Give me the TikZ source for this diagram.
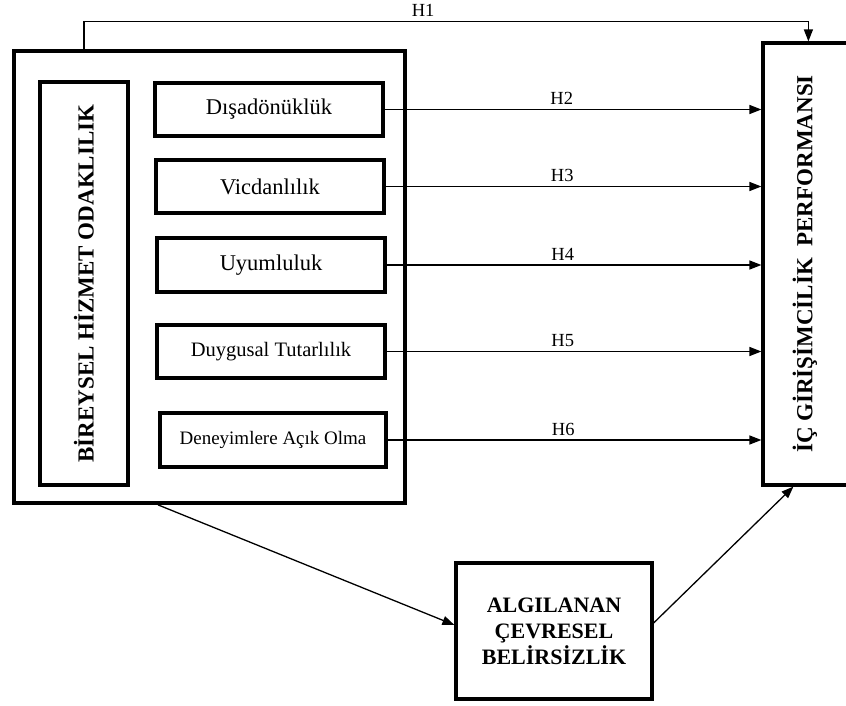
\documentclass[tikz,border=0pt]{standalone}
\usepackage{fontspec}
\setmainfont{Liberation Serif}
\usetikzlibrary{arrows.meta, positioning}

\begin{document}
\begin{tikzpicture}[
  x=1pt, y=-1pt,
  grpbox/.style={draw, line width=3.8pt, minimum width=391pt, minimum height=452pt, inner sep=0pt},
  trait/.style={draw, line width=3.2pt, minimum width=228pt, minimum height=53pt, inner sep=0pt, font=\fontsize{22.5}{26}\selectfont},
  vbox/.style={draw, line width=3.2pt, inner sep=0pt, align=center, font=\bfseries\fontsize{23}{26}\selectfont},
  arr/.style={line width=1.3pt, -{Triangle[length=12pt, width=9pt]}},
  hlbl/.style={font=\fontsize{18.5}{21}\selectfont, inner sep=2pt, yshift=2pt}
]
\useasboundingbox (0,0) rectangle (846,706);

\node[grpbox] (grp) at (209.5,277) {};
\node[vbox, minimum width=88pt, minimum height=403pt] (bho) at (84,283.5) {\rotatebox{90}{BİREYSEL HİZMET ODAKLILIK}};
\node[trait] (d1) at (269,109.5) {Dışadönüklük};
\node[trait] (d2) at (270,186.5) {Vicdanlılık};
\node[trait, minimum height=54pt] (d3) at (271,265) {Uyumluluk};
\node[trait, font=\fontsize{20.5}{24}\selectfont] (d4) at (271,351.5) {Duygusal Tutarlılık};
\node[trait, minimum width=226pt, minimum height=54pt, font=\fontsize{19}{22}\selectfont] (d5) at (273,440) {Deneyimlere Açık Olma};

\node[vbox, minimum width=87pt, minimum height=442pt] (perf) at (806.5,264) {\hspace*{-3pt}\rotatebox{90}{İÇ GİRİŞİMCİLİK~ PERFORMANSI}};
\node[vbox, minimum width=196pt, minimum height=136pt, font=\bfseries\fontsize{22}{26}\selectfont] (alg) at (554,631) {ALGILANAN\\ÇEVRESEL\\BELİRSİZLİK};

\draw[arr] ([xshift=72pt]grp.north west) |- node[hlbl, pos=0.734, above]{H1} ([xshift=47pt, yshift=20pt]perf.north west) -- ([xshift=47pt]perf.north west);
\draw[arr] (d1.east) -- node[hlbl, pos=0.47, above]{H2} (d1.east -| perf.west);
\draw[arr] (d2.east) -- node[hlbl, pos=0.47, above]{H3} (d2.east -| perf.west);
\draw[arr] (d3.east) -- node[hlbl, pos=0.47, above]{H4} (d3.east -| perf.west);
\draw[arr] (d4.east) -- node[hlbl, pos=0.47, above]{H5} (d4.east -| perf.west);
\draw[arr] (d5.east) -- node[hlbl, pos=0.47, above]{H6} (d5.east -| perf.west);

\draw[arr] ([xshift=146pt]grp.south west) -- ([yshift=6pt]alg.west);
\draw[arr] ([yshift=8pt]alg.east) -- ([xshift=32pt]perf.south west);
\end{tikzpicture}
\end{document}
